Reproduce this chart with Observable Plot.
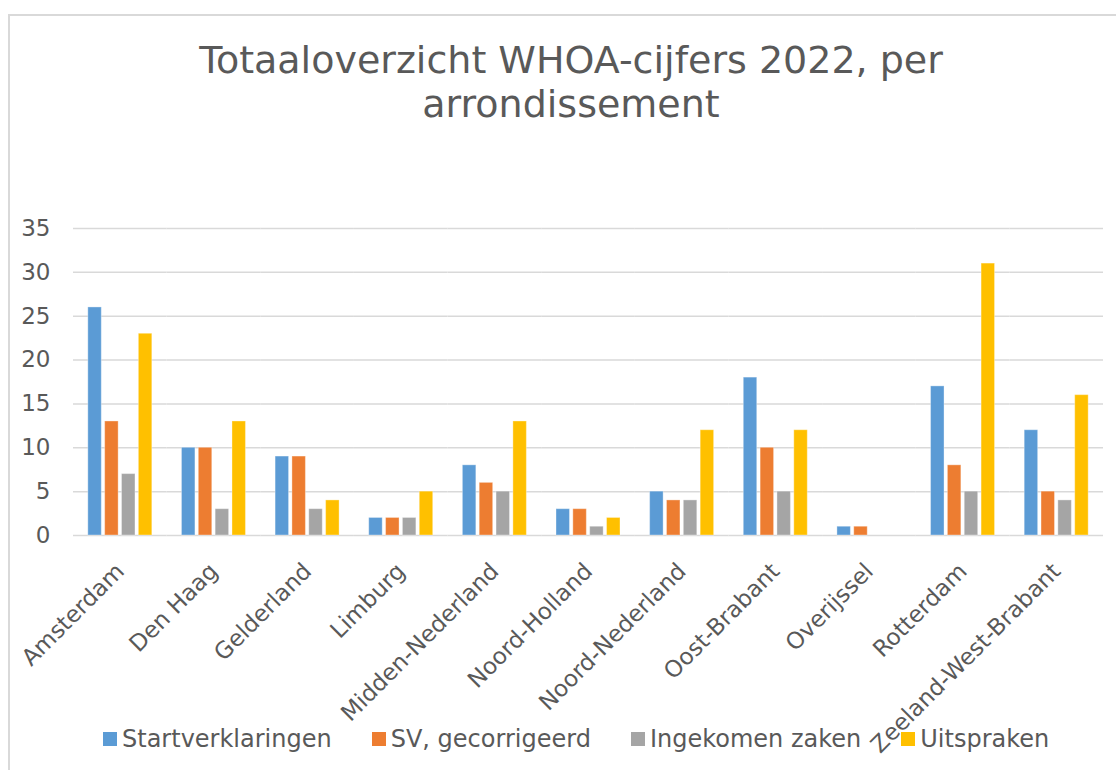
<!DOCTYPE html>
<html>
<head>
<meta charset="utf-8">
<script src="https://cdn.jsdelivr.net/npm/d3@7"></script>
<script src="https://cdn.jsdelivr.net/npm/@observablehq/plot@0.6"></script>
<style>
  html, body { margin: 0; padding: 0; background: #fff; }
  #wrap { position: relative; width: 1116px; height: 770px; overflow: hidden; font-family: "DejaVu Sans", Verdana, sans-serif; color: #595959; }
  #frame { position: absolute; left: 8px; top: 14px; width: 1200px; height: 900px; border-left: 2px solid #d9d9d9; border-top: 2px solid #d9d9d9; }
  #title { position: absolute; left: 0; top: 38px; width: 1142px; text-align: center; font-size: 38px; line-height: 44px; color: #595959; }
  #chart { position: absolute; left: 0; top: 0; }
  #legend { position: absolute; left: 103px; top: 725px; display: flex; gap: 40px; font-size: 24px; color: #595959; white-space: nowrap; }
  .item { display: flex; align-items: center; line-height: 28px; }
  .sw { width: 14px; height: 14px; margin-right: 5px; }
</style>
</head>
<body>
<div id="wrap">
  <div id="frame"></div>
  <div id="chart"></div>
  <div id="title">Totaaloverzicht WHOA-cijfers 2022, per<br>arrondissement</div>
  <div id="legend"></div>
</div>
<script>
const categories = ["Amsterdam","Den Haag","Gelderland","Limburg","Midden-Nederland","Noord-Holland","Noord-Nederland","Oost-Brabant","Overijssel","Rotterdam","Zeeland-West-Brabant"];
const seriesNames = ["Startverklaringen","SV, gecorrigeerd","Ingekomen zaken","Uitspraken"];
const startverklaringen = [26,10,9,2,8,3,5,18,1,17,12];
const svGecorrigeerd   = [13,10,9,2,6,3,4,10,1,8,5];
const ingekomenZaken   = [7,3,3,2,5,1,4,5,0,5,4];
const uitspraken       = [23,13,4,5,13,2,12,12,0,31,16];
const colors = ["#5B9BD5","#ED7D31","#A5A5A5","#FFC000"];
const yTicks = [0,5,10,15,20,25,30,35];

const seriesValues = [startverklaringen, svGecorrigeerd, ingekomenZaken, uitspraken];
const data = [];
categories.forEach((c, i) => {
  seriesNames.forEach((s, j) => data.push({cat: c, series: s, value: seriesValues[j][i]}));
});

const plot = Plot.plot({
  width: 1116,
  height: 770,
  marginLeft: 73,
  marginRight: 13,
  marginTop: 228,
  marginBottom: 235,
  style: {fontFamily: "DejaVu Sans, Verdana, sans-serif", color: "#595959", background: "transparent"},
  fx: {domain: categories, padding: 0, round: false, label: null},
  x: {domain: seriesNames, paddingInner: 0.2, paddingOuter: 0.88, round: false, axis: null},
  y: {domain: [0, 35], label: null},
  color: {domain: seriesNames, range: colors},
  marks: [
    Plot.gridY(yTicks, {stroke: "#d9d9d9", strokeOpacity: 1, strokeWidth: 1.5}),
    Plot.barY(data, {fx: "cat", x: "series", y: "value", fill: "series", stroke: "#ffffff", strokeOpacity: 0.35, strokeWidth: 1}),
    Plot.axisY({ticks: yTicks, tickSize: 0, tickPadding: 23, fontSize: 23, label: null}),
    Plot.axisFx({anchor: "bottom", tickSize: 0, tickRotate: -45, tickPadding: 10, dx: 0, dy: 22, fontSize: 23, label: null})
  ]
});
document.getElementById("chart").appendChild(plot);

const legend = document.getElementById("legend");
seriesNames.forEach((s, j) => {
  const it = document.createElement("div");
  it.className = "item";
  const sw = document.createElement("div");
  sw.className = "sw";
  sw.style.background = colors[j];
  const t = document.createElement("span");
  t.textContent = s;
  it.appendChild(sw); it.appendChild(t);
  legend.appendChild(it);
});
</script>
</body>
</html>
